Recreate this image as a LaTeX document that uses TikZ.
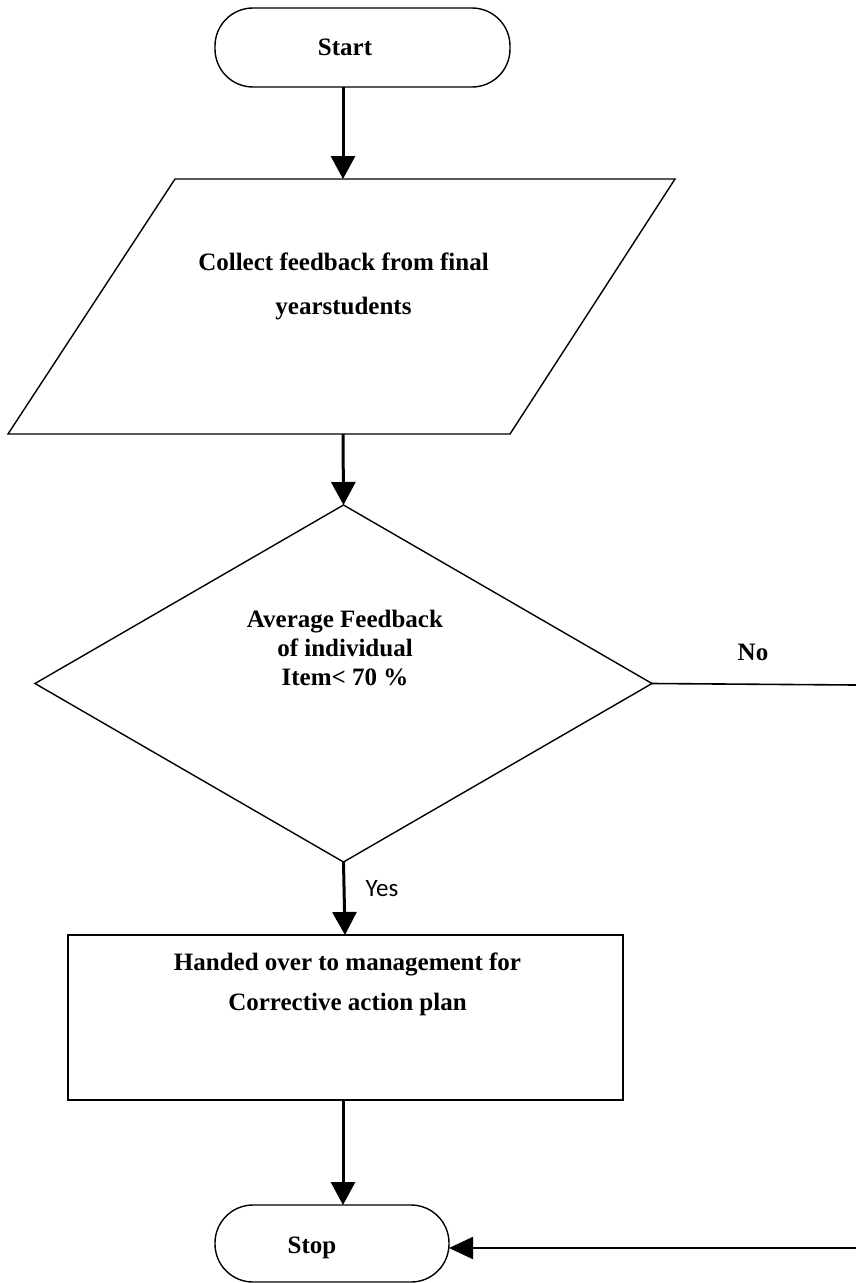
\documentclass[tikz,border=0pt]{standalone}
\usepackage{fontspec}
\setmainfont{Liberation Serif}
\newfontfamily\yesfont{Carlito}
\usetikzlibrary{shapes.geometric,arrows.meta}
\tikzset{
  shapeline/.style={draw=black, line width=1.4pt, inner sep=0pt, outer sep=0pt},
  term/.style={shapeline, rectangle, rounded corners=38pt},
  flowarrow/.style={line width=3pt, -{Triangle[length=23pt,width=24pt]}},
  backarrow/.style={line width=2pt, -{Triangle[length=24pt,width=22pt]}},
  plainline/.style={line width=1.6pt},
  lbl/.style={font=\bfseries\fontsize{25}{30}\selectfont, align=center, inner sep=0pt},
}
\begin{document}
\begin{tikzpicture}[x=1pt,y=-1pt]
\useasboundingbox (0,0) rectangle (856,1283);
% shapes
\node[term, minimum width=295pt, minimum height=79pt] (start) at (362.5,47.5) {};
\draw[line width=1.4pt, line join=miter] (175,179) -- (675,179) -- (510,434) -- (8,434) -- cycle;
\coordinate (ctop) at (343,179);
\coordinate (cbot) at (343,434);
\node[shapeline, diamond, minimum width=617pt, minimum height=357pt] (dec) at (343.5,683.5) {};
\node[shapeline, rectangle, minimum width=555pt, minimum height=165pt] (box) at (345.5,1017.5) {};
\node[term, minimum width=234pt, minimum height=77pt] (stop) at (332,1243.5) {};
% texts
\node[lbl] (tstart) at (345,47) {Start};
\node[lbl, font=\bfseries\fontsize{25}{44}\selectfont] (tcollect) at (343.5,286) {Collect feedback from final\\yearstudents};
\node[lbl, font=\bfseries\fontsize{25}{29}\selectfont] (tdec) at (345,648) {Average Feedback\\of individual\\Item< 70 \%};
\node[lbl, font=\bfseries\fontsize{25}{40}\selectfont] (tbox) at (347.5,984) {Handed over to management for\\Corrective action plan};
\node[lbl] (tstop) at (312,1248) {Stop};
\node[lbl] (tno) at (753,652) {No};
\node[font=\yesfont\fontsize{25}{30}\selectfont, inner sep=0pt] (tyes) at (382,889) {Yes};
% connectors
\draw[flowarrow] (start.south -| ctop) -- (ctop);
\draw[flowarrow] (cbot) -- (dec.north);
\draw[flowarrow] (dec.south) -- (box.north -| 345,0);
\draw[flowarrow] (box.south -| ctop) -- (ctop |- stop.north);
\coordinate (noend) at (856,685);
\coordinate (retstart) at (856,1248);
\draw[plainline] (dec.east) -- (noend);
\draw[backarrow] (retstart) -- (retstart -| stop.east);
\end{tikzpicture}
\end{document}
